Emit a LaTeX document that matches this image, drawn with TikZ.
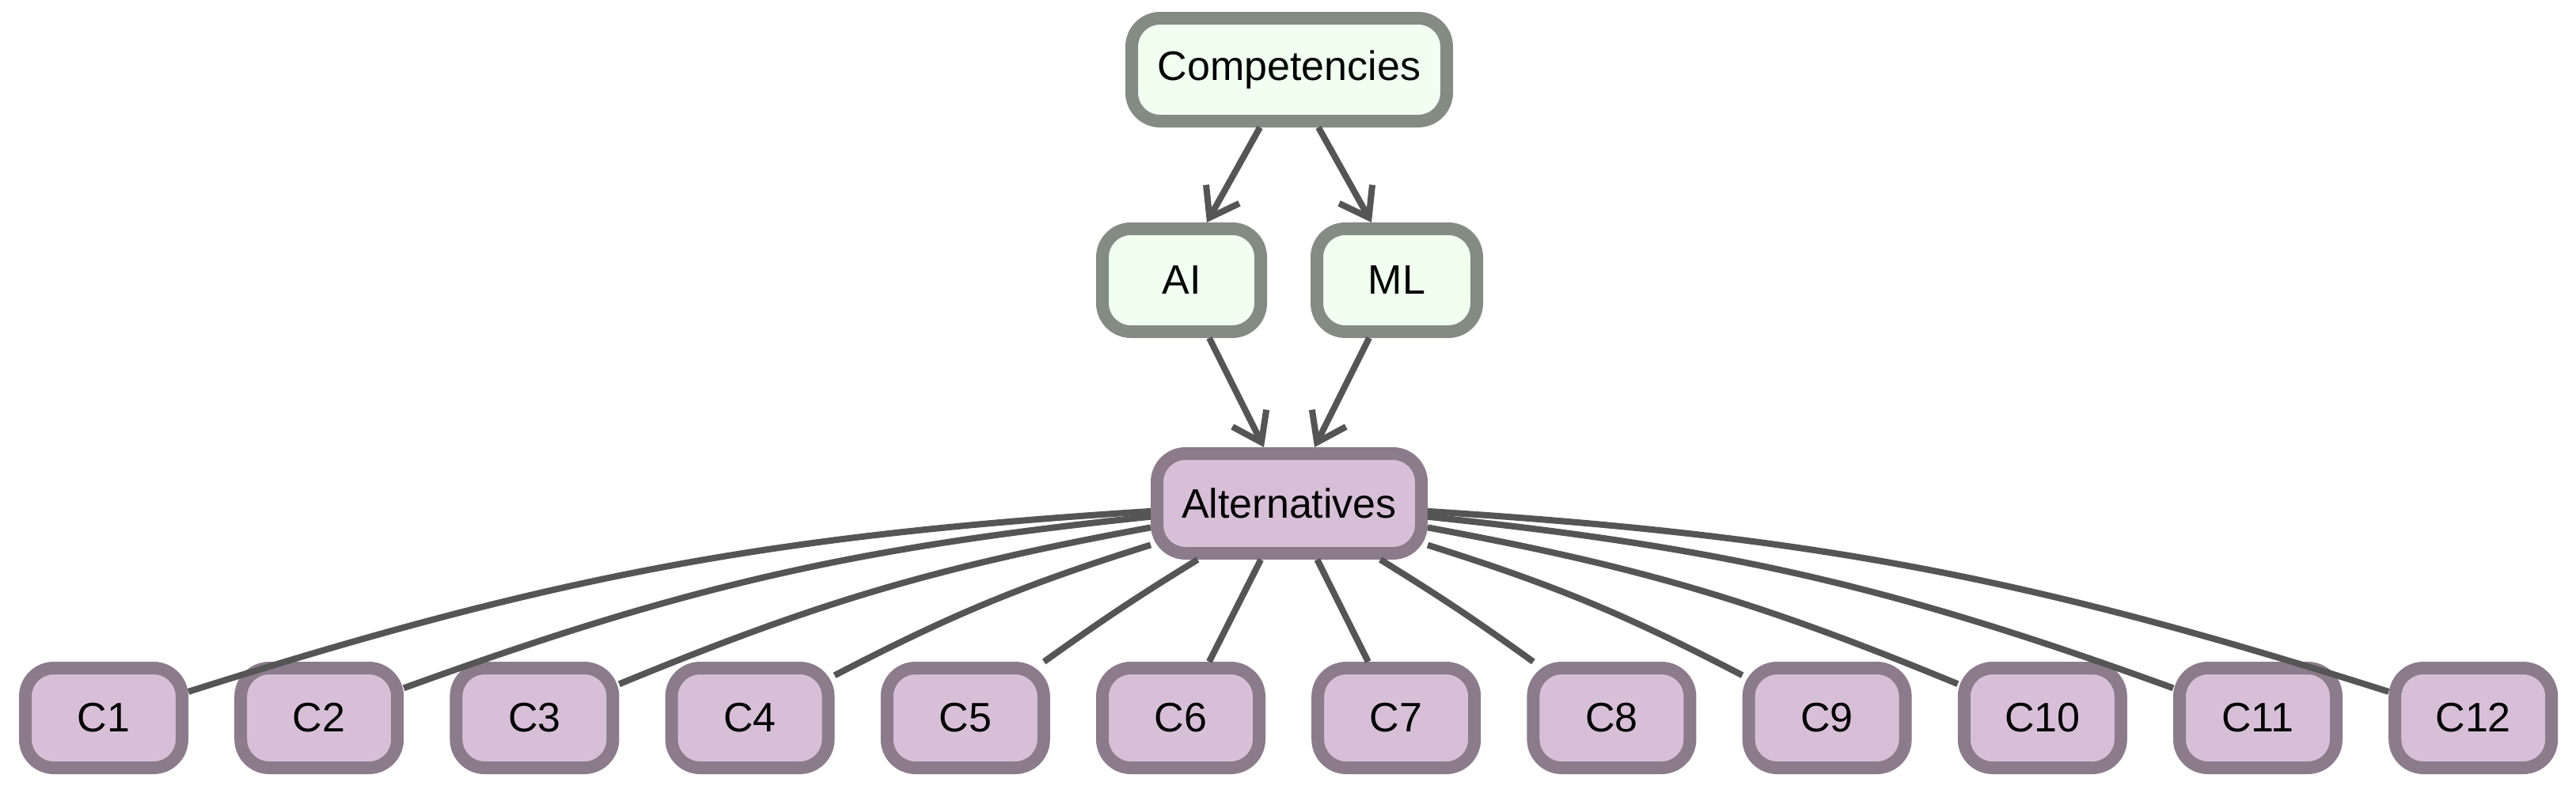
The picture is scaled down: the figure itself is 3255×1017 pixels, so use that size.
\documentclass[tikz,border=0pt]{standalone}
\usepackage{fontspec}
\setmainfont{Liberation Sans}
\usetikzlibrary{arrows.meta}
\definecolor{gfill}{HTML}{F0FFF0}\definecolor{gdraw}{HTML}{838B83}
\definecolor{pfill}{HTML}{D8BFD8}\definecolor{pdraw}{HTML}{8B7B8B}
\definecolor{edge}{HTML}{555555}
\begin{document}
\begin{tikzpicture}[x=0.25pt,y=-0.25pt,
 box/.style={rectangle,rounded corners=9pt,line width=4pt,font=\fontsize{13}{15}\selectfont,inner sep=0pt},
 green/.style={box,fill=gfill,draw=gdraw},
 purple/.style={box,fill=pfill,draw=pdraw},
 arr/.style={draw=edge,line width=2pt,-{Straight Barb[length=8.5pt,width=12pt,line width=2pt]}},
 ln/.style={draw=edge,line width=2pt}]
\useasboundingbox (0,0) rectangle (3255,1017);
\node[green,minimum width=99.5pt,minimum height=32.5pt] (comp) at (1629,88) {Competencies};
\node[green,minimum width=50pt,minimum height=32.5pt] (ai) at (1493,354) {AI};
\node[green,minimum width=50.5pt,minimum height=32.5pt] (ml) at (1765,354) {ML};
\node[purple,minimum width=83.5pt,minimum height=31.5pt] (alt) at (1629,636) {Alternatives};
\foreach \i in {1,...,12}{
 \node[purple,minimum width=49.5pt,minimum height=31.5pt] (c\i) at ({131+(\i-1)*272.2},907) {C\i};
}
\draw[arr] ([xshift=-9.25pt]comp.south) -- ([xshift=8pt]ai.north);
\draw[arr] ([xshift=9.25pt]comp.south) -- ([xshift=-8pt]ml.north);
\draw[arr] ([xshift=8.75pt]ai.south) -- ([xshift=-8pt]alt.north);
\draw[arr] ([xshift=-8.75pt]ml.south) -- ([xshift=8pt]alt.north);
\draw[ln] (alt) to[bend right=7] (c1);
\draw[ln] (alt) to[bend right=7] (c2);
\draw[ln] (alt) to[bend right=6] (c3);
\draw[ln] (alt) to[bend right=5] (c4);
\draw[ln] (alt) to[bend right=2] (c5);
\draw[ln] (alt) -- (c6);
\draw[ln] (alt) -- (c7);
\draw[ln] (alt) to[bend left=2] (c8);
\draw[ln] (alt) to[bend left=5] (c9);
\draw[ln] (alt) to[bend left=6] (c10);
\draw[ln] (alt) to[bend left=7] (c11);
\draw[ln] (alt) to[bend left=7] (c12);
\end{tikzpicture}
\end{document}
